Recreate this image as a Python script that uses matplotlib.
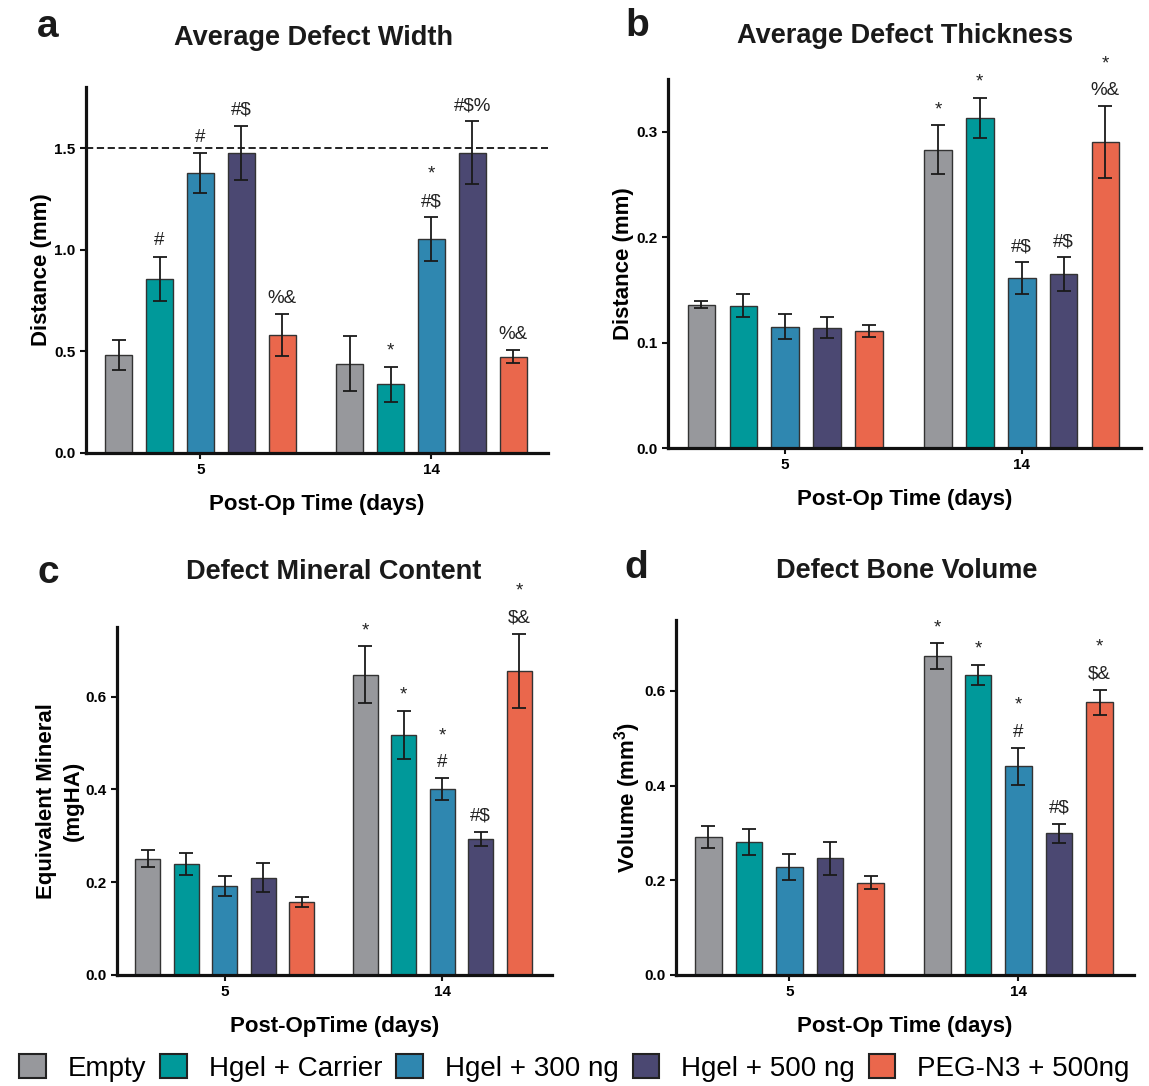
import numpy as np
import matplotlib.pyplot as plt
from matplotlib.patches import Patch

plt.rcParams['font.family'] = ['Liberation Sans', 'DejaVu Sans']
plt.rcParams['mathtext.fontset'] = 'custom'
plt.rcParams['mathtext.bf'] = 'Liberation Sans:bold'
plt.rcParams['mathtext.rm'] = 'Liberation Sans'

groups = ['Empty', 'Hgel + Carrier', 'Hgel + 300 ng', 'Hgel + 500 ng', 'PEG-N3 + 500ng']
colors = ['#97989c', '#00999a', '#2f87b0', '#4b4872', '#ea674c']
days = ['5', '14']

# rows: day 5, day 14 ; columns follow groups
width_mean = [[0.48, 0.856, 1.377, 1.476, 0.579], [0.44, 0.337, 1.052, 1.476, 0.473]]
width_err = [[0.074, 0.11, 0.10, 0.134, 0.103], [0.133, 0.087, 0.108, 0.155, 0.032]]
width_marks = [['', '#', '#', '#$', '%&'], ['', '*', '*\n#$', '#$%', '%&']]

thick_mean = [[0.136, 0.135, 0.115, 0.114, 0.111], [0.283, 0.313, 0.161, 0.165, 0.290]]
thick_err = [[0.003, 0.011, 0.012, 0.010, 0.006], [0.023, 0.019, 0.015, 0.016, 0.034]]
thick_marks = [['', '', '', '', ''], ['*', '*', '#$', '#$', '*\n%&']]

mineral_mean = [[0.251, 0.239, 0.192, 0.210, 0.158], [0.647, 0.517, 0.401, 0.293, 0.655]]
mineral_err = [[0.019, 0.023, 0.021, 0.031, 0.011], [0.061, 0.052, 0.023, 0.016, 0.080]]
mineral_marks = [['', '', '', '', ''], ['*', '*', '*\n#', '#$', '*\n$&']]

volume_mean = [[0.291, 0.281, 0.228, 0.247, 0.195], [0.674, 0.634, 0.441, 0.299, 0.576]]
volume_err = [[0.023, 0.027, 0.028, 0.035, 0.014], [0.027, 0.021, 0.039, 0.021, 0.026]]
volume_marks = [['', '', '', '', ''], ['*', '*', '*\n#', '#$', '*\n$&']]


def draw(ax, mean, err, marks, ymax, ystep, ylabel, xlabel, ypad=2):
    mean = np.array(mean)
    err = np.array(err)
    centers = []
    for d in range(2):
        c = d * 5.65
        centers.append(c)
        x = c + np.arange(5) - 2
        ax.bar(x, mean[d], 0.66, color=colors, edgecolor='#333333', linewidth=1, zorder=2)
        ax.errorbar(x, mean[d], yerr=err[d], fmt='none', ecolor='#1a1a1a',
                    elinewidth=1.3, capsize=5, capthick=1.3, zorder=3)
        for xi, m, e, lab in zip(x, mean[d], err[d], marks[d]):
            if not lab:
                continue
            for k, line in enumerate(lab.split('\n')[::-1]):
                ax.annotate(line, (xi, m + e), xytext=(0, 8 + 19.5 * k),
                            textcoords='offset points', ha='center', va='baseline',
                            fontsize=13.5, color='#222222')
    ax.set_xlim(-2.8, 8.5)
    ax.set_ylim(0, ymax)
    yt = np.arange(0, ymax + 1e-9, ystep)
    ax.set_yticks(yt)
    ax.set_yticklabels(['%.1f' % v for v in yt], fontweight='bold')
    ax.set_xticks(centers)
    ax.set_xticklabels(days, fontweight='bold')
    ax.tick_params(axis='both', direction='out', length=4, width=1.5, labelsize=11,
                   color='#111111')
    for s in ['top', 'right']:
        ax.spines[s].set_visible(False)
    for s in ['left', 'bottom']:
        ax.spines[s].set_linewidth(2.3)
        ax.spines[s].set_color('#111111')
    ax.set_ylabel(ylabel, fontsize=16, fontweight='bold', labelpad=ypad, linespacing=1.35)
    ax.set_xlabel(xlabel, fontsize=16, fontweight='bold', labelpad=12)


W, H = 1149, 1086
fig = plt.figure(figsize=(W / 100, H / 100), dpi=100)


def rect(l, t, r, b):
    return [l / W, 1 - b / H, (r - l) / W, (b - t) / H]


ax_a = fig.add_axes(rect(86, 87, 548, 453))
ax_b = fig.add_axes(rect(668, 79, 1141, 448))
ax_c = fig.add_axes(rect(117, 627, 552, 975))
ax_d = fig.add_axes(rect(676, 620, 1134, 975))

draw(ax_a, width_mean, width_err, width_marks, 1.8, 0.5, 'Distance (mm)', 'Post-Op Time (days)')
ax_a.axhline(1.5, color='#111111', linestyle=(0, (4, 2)), linewidth=1.3, zorder=1)
draw(ax_b, thick_mean, thick_err, thick_marks, 0.35, 0.1, 'Distance (mm)', 'Post-Op Time (days)')
draw(ax_c, mineral_mean, mineral_err, mineral_marks, 0.75, 0.2,
     'Equivalent Mineral\n(mgHA)', 'Post-OpTime (days)', ypad=1)
draw(ax_d, volume_mean, volume_err, volume_marks, 0.75, 0.2,
     r'Volume (mm$^{\mathbf{3}}$)', 'Post-Op Time (days)', ypad=1)

titles = ['Average Defect Width', 'Average Defect Thickness', 'Defect Mineral Content', 'Defect Bone Volume']
title_pos = [(314, 38), (905, 36), (334, 572), (907, 571)]
letters = ['a', 'b', 'c', 'd']
letter_pos = [(48, 27), (637, 26), (48, 573), (636, 568)]
for t, (x, y) in zip(titles, title_pos):
    fig.text(x / W, 1 - y / H, t, ha='center', va='center', fontsize=19.5, fontweight='bold',
             color='#1a1a1a')
for t, (x, y) in zip(letters, letter_pos):
    fig.text(x / W, 1 - y / H, t, ha='center', va='center', fontsize=28, fontweight='bold',
             color='#1a1a1a')

handles = [Patch(facecolor=c, edgecolor='#222222', linewidth=1.5) for c in colors]
fig.legend(handles, groups, loc='center', bbox_to_anchor=(0.5, 1 - 1068 / H), ncol=5,
           fontsize=20, frameon=False, handlelength=0.95, handleheight=0.95,
           handletextpad=0.8, columnspacing=0.5, borderpad=0, borderaxespad=0)

fig.savefig('out.png', dpi=100)
